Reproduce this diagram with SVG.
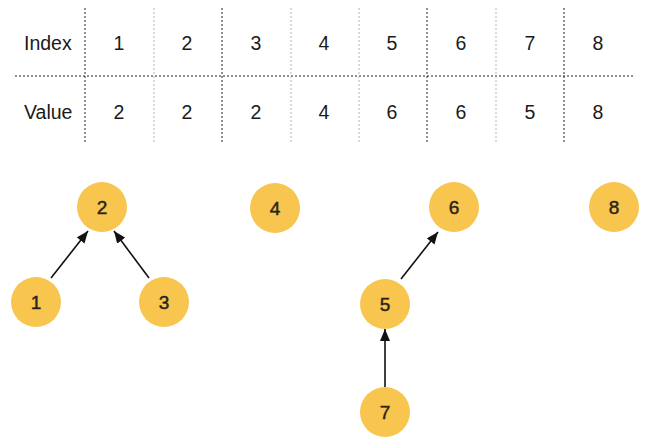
<svg xmlns="http://www.w3.org/2000/svg" width="647" height="443" viewBox="0 0 647 443">
  <style>
    .cell { font-family: "Liberation Sans", Arial, sans-serif; font-size: 19.5px; fill: #1a1a1a; text-anchor: middle; }
    .head { font-family: "Liberation Sans", Arial, sans-serif; font-size: 19.5px; fill: #1a1a1a; text-anchor: start; }
    .grid-dark { stroke: #222; stroke-width: 1; stroke-dasharray: 2 2; fill: none; }
    .grid-light { stroke: #b5b5b5; stroke-width: 1; stroke-dasharray: 2 2; fill: none; }
    .node circle { fill: #F8C54F; }
    .node text { font-family: "Liberation Sans", Arial, sans-serif; font-size: 19px; fill: #2a2418; stroke: #2a2418; stroke-width: 0.45; text-anchor: middle; dominant-baseline: central; }
    .edge { stroke: #111; stroke-width: 1.6; fill: none; marker-end: url(#arrow); }
  </style>
  <defs>
    <marker id="arrow" markerUnits="userSpaceOnUse" markerWidth="12" markerHeight="10" viewBox="0 0 12 10" refX="12" refY="5" orient="auto">
      <path d="M0,0 L12,5 L0,10 Z" fill="#111"/>
    </marker>
  </defs>

  <!-- table grid -->
  <g id="table-grid">
    <line class="grid-dark" x1="15" y1="76" x2="633" y2="76"/>
    <line class="grid-dark" x1="85" y1="8" x2="85" y2="143"/>
    <line class="grid-light" x1="154" y1="8" x2="154" y2="143"/>
    <line class="grid-dark" x1="222" y1="8" x2="222" y2="143"/>
    <line class="grid-light" x1="291" y1="8" x2="291" y2="143"/>
    <line class="grid-light" x1="359" y1="8" x2="359" y2="143"/>
    <line class="grid-dark" x1="427" y1="8" x2="427" y2="143"/>
    <line class="grid-light" x1="496" y1="8" x2="496" y2="143"/>
    <line class="grid-dark" x1="564" y1="8" x2="564" y2="143"/>
  </g>

  <!-- table text -->
  <g id="table-text">
    <text class="head" x="24" y="50">Index</text>
    <text class="head" x="24" y="119">Value</text>
    <text class="cell" x="119" y="50">1</text>
    <text class="cell" x="187" y="50">2</text>
    <text class="cell" x="256" y="50">3</text>
    <text class="cell" x="324" y="50">4</text>
    <text class="cell" x="392" y="50">5</text>
    <text class="cell" x="461" y="50">6</text>
    <text class="cell" x="530" y="50">7</text>
    <text class="cell" x="598" y="50">8</text>
    <text class="cell" x="119" y="119">2</text>
    <text class="cell" x="187" y="119">2</text>
    <text class="cell" x="256" y="119">2</text>
    <text class="cell" x="324" y="119">4</text>
    <text class="cell" x="392" y="119">6</text>
    <text class="cell" x="461" y="119">6</text>
    <text class="cell" x="530" y="119">5</text>
    <text class="cell" x="598" y="119">8</text>
  </g>

  <!-- connectors -->
  <g id="edges">
    <line class="edge" x1="51" y1="278" x2="88" y2="231"/>
    <line class="edge" x1="149" y1="278" x2="114" y2="231"/>
    <line class="edge" x1="401" y1="279" x2="438" y2="232"/>
    <line class="edge" x1="385" y1="387" x2="385" y2="329"/>
  </g>

  <!-- nodes -->
  <g id="node-1" class="node"><circle cx="36" cy="302" r="25"/><text x="36" y="302">1</text></g>
  <g id="node-2" class="node"><circle cx="102" cy="207" r="25"/><text x="102" y="207">2</text></g>
  <g id="node-3" class="node"><circle cx="164" cy="302" r="25"/><text x="164" y="302">3</text></g>
  <g id="node-4" class="node"><circle cx="275" cy="208" r="25"/><text x="275" y="208">4</text></g>
  <g id="node-5" class="node"><circle cx="385" cy="304" r="25"/><text x="385" y="304">5</text></g>
  <g id="node-6" class="node"><circle cx="454" cy="207" r="25"/><text x="454" y="207">6</text></g>
  <g id="node-7" class="node"><circle cx="385" cy="412" r="25"/><text x="385" y="412">7</text></g>
  <g id="node-8" class="node"><circle cx="614" cy="207" r="25"/><text x="614" y="207">8</text></g>
</svg>
